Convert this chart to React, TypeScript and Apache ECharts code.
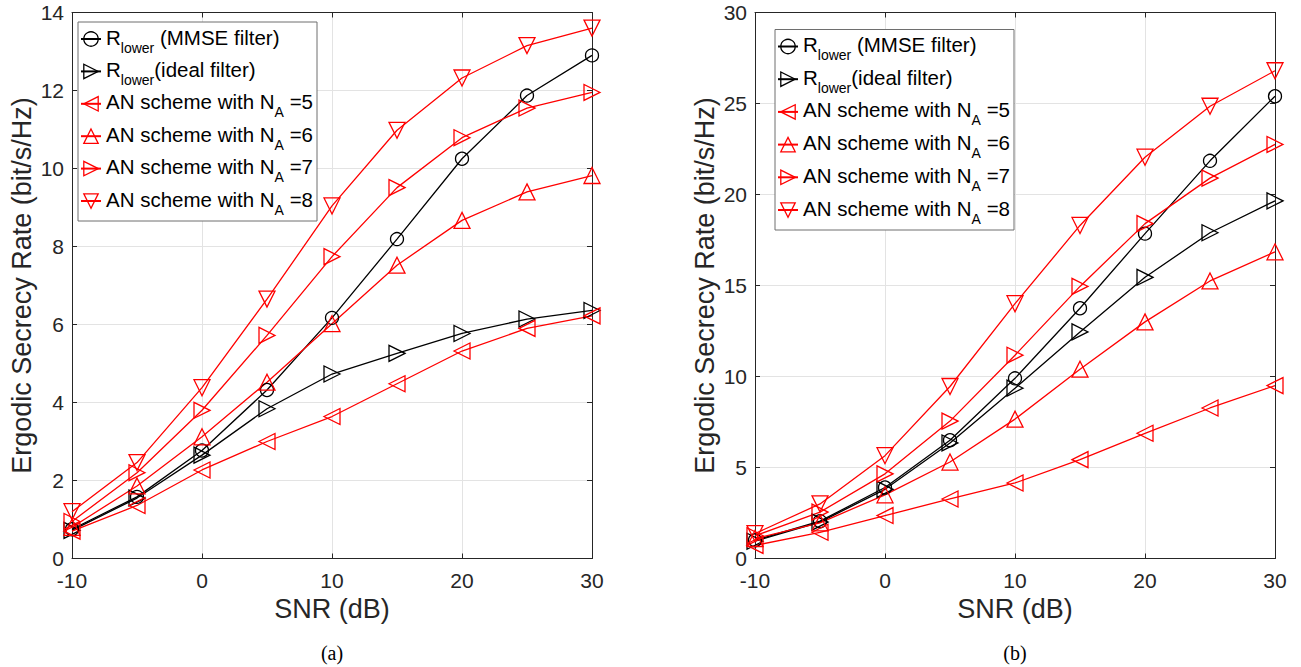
import { useEffect, useRef } from 'react';
import * as echarts from 'echarts';

const snr = [-10, -5, 0, 5, 10, 15, 20, 25, 30];

const seriesNames = [
  'R_lower (MMSE filter)',
  'R_lower(ideal filter)',
  'AN scheme with N_A =5',
  'AN scheme with N_A =6',
  'AN scheme with N_A =7',
  'AN scheme with N_A =8',
];
const legendLabels = [
  '{m|R}{s|lower}{m| (MMSE filter)}',
  '{m|R}{s|lower}{m|(ideal filter)}',
  '{m|AN scheme with N}{s|A}{m| =5}',
  '{m|AN scheme with N}{s|A}{m| =6}',
  '{m|AN scheme with N}{s|A}{m| =7}',
  '{m|AN scheme with N}{s|A}{m| =8}',
];

// panel (a)
const aMmse = [0.75, 1.58, 2.77, 4.32, 6.17, 8.19, 10.25, 11.87, 12.9];
const aIdeal = [0.72, 1.55, 2.65, 3.84, 4.73, 5.26, 5.77, 6.14, 6.36];
const aNa5 = [0.7, 1.36, 2.27, 3.0, 3.64, 4.48, 5.32, 5.9, 6.22];
const aNa6 = [0.8, 1.86, 3.12, 4.52, 6.02, 7.52, 8.67, 9.4, 9.82];
const aNa7 = [0.95, 2.2, 3.8, 5.72, 7.74, 9.51, 10.79, 11.55, 11.95];
const aNa8 = [1.2, 2.46, 4.38, 6.65, 9.04, 10.98, 12.32, 13.15, 13.6];

// panel (b)
const bMmse = [1.0, 2.05, 3.9, 6.5, 9.9, 13.75, 17.85, 21.85, 25.4];
const bIdeal = [0.95, 2.0, 3.8, 6.35, 9.36, 12.45, 15.45, 17.9, 19.65];
const bNa5 = [0.72, 1.44, 2.36, 3.27, 4.15, 5.43, 6.88, 8.27, 9.5];
const bNa6 = [1.1, 1.96, 3.5, 5.3, 7.66, 10.4, 13.0, 15.25, 16.85];
const bNa7 = [1.25, 2.55, 4.65, 7.55, 11.17, 14.95, 18.4, 20.9, 22.75];
const bNa8 = [1.37, 3.0, 5.65, 9.45, 14.0, 18.3, 22.05, 24.85, 26.8];

const panelA = [aMmse, aIdeal, aNa5, aNa6, aNa7, aNa8];
const panelB = [bMmse, bIdeal, bNa5, bNa6, bNa7, bNa8];

const xName = 'SNR (dB)';
const yName = 'Ergodic Secrecy Rate (bit/s/Hz)';
const panelLabels = ['(a)', '(b)'];
const yMax = [14, 30];
const yInterval = [2, 5];

const colors = ['#000000', '#000000', '#ff0000', '#ff0000', '#ff0000', '#ff0000'];
const symbols = ['circle', 'triangle', 'triangle', 'triangle', 'triangle', 'triangle'];
const rotations = [0, -90, 90, 0, -90, 180];
const sizes = [13, 16, 16, 16, 16, 16];

const FONT = 'Liberation Sans, Arial, Helvetica, sans-serif';
const AX = '#262626';

export default function App() {
  const ref = useRef<HTMLDivElement>(null);
  useEffect(() => {
    if (!ref.current) return;
    const chart = echarts.init(ref.current, null, { renderer: 'svg' });
    const grids = [
      { left: 72, top: 12.5, width: 520, height: 546 },
      { left: 755, top: 12.5, width: 520, height: 546 },
    ];
    const xAxes: any[] = [];
    const yAxes: any[] = [];
    grids.forEach((g, gi) => {
      xAxes.push({
        type: 'value', gridIndex: gi, min: -10, max: 30, interval: 10, position: 'bottom',
        name: xName, nameLocation: 'middle', nameGap: 31,
        nameTextStyle: { fontSize: 27, color: AX, fontFamily: FONT },
        axisLine: { show: true, onZero: false, lineStyle: { color: AX, width: 1 } },
        axisTick: { show: true, inside: true, length: 5, lineStyle: { color: AX } },
        axisLabel: { show: true, fontSize: 21, color: AX, fontFamily: FONT, margin: 11 },
        splitLine: { show: true, lineStyle: { color: '#e3e3e3', width: 1 } },
      });
      xAxes.push({
        type: 'value', gridIndex: gi, min: -10, max: 30, interval: 10, position: 'top',
        axisLine: { show: true, onZero: false, lineStyle: { color: AX, width: 1 } },
        axisTick: { show: true, inside: true, length: 5, lineStyle: { color: AX } },
        axisLabel: { show: false },
        splitLine: { show: false },
      });
      yAxes.push({
        type: 'value', gridIndex: gi, min: 0, max: yMax[gi], interval: yInterval[gi], position: 'left',
        name: yName, nameLocation: 'middle', nameGap: 37,
        nameTextStyle: { fontSize: 27, color: AX, fontFamily: FONT },
        axisLine: { show: true, onZero: false, lineStyle: { color: AX, width: 1 } },
        axisTick: { show: true, inside: true, length: 5, lineStyle: { color: AX } },
        axisLabel: { show: true, fontSize: 21, color: AX, fontFamily: FONT, margin: 8 },
        splitLine: { show: true, lineStyle: { color: '#e3e3e3', width: 1 } },
      });
      yAxes.push({
        type: 'value', gridIndex: gi, min: 0, max: yMax[gi], interval: yInterval[gi], position: 'right',
        axisLine: { show: true, onZero: false, lineStyle: { color: AX, width: 1 } },
        axisTick: { show: true, inside: true, length: 5, lineStyle: { color: AX } },
        axisLabel: { show: false },
        splitLine: { show: false },
      });
    });

    const series: any[] = [];
    [panelA, panelB].forEach((panel, pi) => {
      panel.forEach((vals, si) => {
        series.push({
          type: 'line',
          name: seriesNames[si],
          xAxisIndex: pi * 2,
          yAxisIndex: pi * 2,
          data: snr.map((x, i) => [x, vals[i]]),
          symbol: symbols[si],
          symbolSize: sizes[si],
          symbolRotate: rotations[si],
          showAllSymbol: true,
          lineStyle: { color: colors[si], width: 1.3 },
          itemStyle: { color: 'rgba(255,255,255,0)', borderColor: colors[si], borderWidth: 1.3 },
          emphasis: { disabled: true },
          z: 3,
        });
      });
    });

    const legendPos = [
      { left: 78, top: 22 },
      { left: 775, top: 29.5 },
    ];

    chart.setOption({
      animation: false,
      backgroundColor: '#ffffff',
      grid: grids.map((g) => ({ ...g, containLabel: false, outerBoundsMode: 'none' })),
      xAxis: xAxes,
      yAxis: yAxes,
      legend: legendPos.map((p, li) => ({
        ...p,
        data: seriesNames,
        orient: 'vertical',
        itemWidth: 20,
        itemHeight: 18,
        itemGap: li ? 0.7 : 0.4,
        padding: [1, 4, 4, 2],
        backgroundColor: '#ffffff',
        borderColor: '#6e6e6e',
        borderWidth: 1,
        borderRadius: 0,
        selectedMode: false,
        itemStyle: { borderWidth: 1.3 },
        formatter: (n: string) => legendLabels[seriesNames.indexOf(n)],
        textStyle: {
          fontSize: 20.5,
          lineHeight: 32,
          color: '#000000',
          fontFamily: FONT,
          rich: {
            m: { fontSize: 20.5, lineHeight: 32, height: 28, verticalAlign: 'top', color: '#000000', fontFamily: FONT },
            s: { fontSize: 14, lineHeight: 14, height: 15, verticalAlign: 'bottom', color: '#000000', fontFamily: FONT },
          },
        },
      })),
      graphic: panelLabels.map((t, i) => ({
        type: 'text',
        x: grids[i].left + grids[i].width / 2,
        y: 653,
        style: {
          text: t,
          fontSize: 20,
          fontFamily: 'Liberation Serif, Times New Roman, serif',
          fill: '#000000',
          align: 'center',
          verticalAlign: 'middle',
        },
      })),
      series,
    });
    return () => chart.dispose();
  }, []);
  return (
    <div
      ref={ref}
      style={{ position: 'fixed', left: 0, top: 0, width: 1301, height: 667, background: '#fff' }}
    />
  );
}
